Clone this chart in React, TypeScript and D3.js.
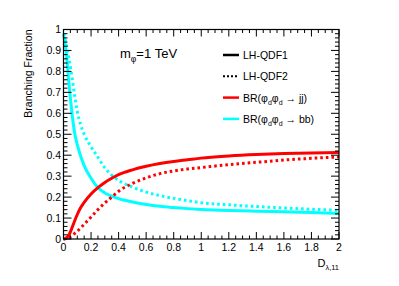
import * as d3 from 'd3';

const W = 399, H = 286;
const M = { left: 63.5, right: 60, top: 29.5, bottom: 47 };
const FONT = '"Liberation Sans", Arial, sans-serif';

// D_{lambda,11} sample points, shared by all curves
const XS = [0, 0.02, 0.04, 0.06, 0.08, 0.1, 0.125, 0.15, 0.2, 0.25, 0.3, 0.35, 0.4, 0.5, 0.6, 0.7, 0.8, 0.9, 1.0, 1.2, 1.4, 1.6, 1.8, 2.0];
const BB_QDF1 = [0.98, 0.89, 0.74, 0.61, 0.51, 0.45, 0.395, 0.35, 0.29, 0.245, 0.22, 0.205, 0.193, 0.177, 0.165, 0.156, 0.15, 0.145, 0.141, 0.136, 0.133, 0.13, 0.126, 0.122];
const JJ_QDF1 = [0, 0.005, 0.02, 0.05, 0.085, 0.117, 0.15, 0.175, 0.215, 0.245, 0.27, 0.29, 0.307, 0.33, 0.347, 0.36, 0.37, 0.378, 0.386, 0.396, 0.403, 0.408, 0.411, 0.413];
const BB_QDF2 = [0.98, 0.93, 0.86, 0.78, 0.69, 0.61, 0.545, 0.5, 0.44, 0.39, 0.34, 0.305, 0.28, 0.248, 0.224, 0.207, 0.194, 0.183, 0.173, 0.163, 0.155, 0.148, 0.142, 0.137];
const JJ_QDF2 = [0, 0.002, 0.008, 0.016, 0.026, 0.037, 0.053, 0.07, 0.105, 0.14, 0.172, 0.2, 0.228, 0.265, 0.292, 0.312, 0.325, 0.334, 0.341, 0.355, 0.366, 0.377, 0.385, 0.392];

const X_TICKS = [0, 0.2, 0.4, 0.6, 0.8, 1, 1.2, 1.4, 1.6, 1.8, 2];
const Y_TICKS = [0, 0.1, 0.2, 0.3, 0.4, 0.5, 0.6, 0.7, 0.8, 0.9, 1];

const CURVES = [
  { vals: BB_QDF1, color: '#00ffff', dash: null },
  { vals: BB_QDF2, color: '#00ffff', dash: '2.6 3' },
  { vals: JJ_QDF1, color: '#ff0000', dash: null },
  { vals: JJ_QDF2, color: '#ff0000', dash: '2.6 3' },
];

export default function App() {
  const x = d3.scaleLinear().domain([0, 2]).range([M.left, W - M.right]);
  const y = d3.scaleLinear().domain([0, 1]).range([H - M.bottom, M.top]);
  const line = d3.line<number>().x((_, i) => x(XS[i])).y(v => y(v)).curve(d3.curveMonotoneX);

  const x0 = x(0), x1 = x(2), y0 = y(0), y1 = y(1);
  const xMinor = d3.range(0, 2.0001, 0.05);
  const yMinor = d3.range(0, 1.0001, 0.02);
  const isMajor = (v: number, step: number) => Math.abs(v / step - Math.round(v / step)) < 1e-6;

  const legend = [
    { label: 'LH-QDF1', color: '#000', dash: null as string | null, kind: 'plain' },
    { label: 'LH-QDF2', color: '#000', dash: '2 2', kind: 'plain' },
    { label: 'jj', color: '#ff0000', dash: null, kind: 'br' },
    { label: 'bb', color: '#00ffff', dash: null, kind: 'br' },
  ];

  return (
    <svg width={W} height={H} style={{ position: 'absolute', left: 0, top: 0, background: '#fff' }}
      fontFamily={FONT}>
      <rect width={W} height={H} fill="#fff" />
      {/* curves */}
      <g>
        {CURVES.map((c, k) => (
          <path key={k} d={line(c.vals) ?? ''} fill="none" stroke={c.color} strokeWidth={3}
            strokeDasharray={c.dash ?? undefined} />
        ))}
      </g>
      {/* frame */}
      <rect x={x0} y={y1} width={x1 - x0} height={y0 - y1} fill="none" stroke="#000" strokeWidth={1.2} />
      {/* x ticks bottom & top */}
      {xMinor.map((v, i) => {
        const len = isMajor(v, 0.2) ? 7 : 3.5;
        return (
          <g key={'xt' + i} stroke="#000" strokeWidth={1}>
            <line x1={x(v)} x2={x(v)} y1={y0} y2={y0 - len} />
            <line x1={x(v)} x2={x(v)} y1={y1} y2={y1 + len} />
          </g>
        );
      })}
      {/* y ticks left & right */}
      {yMinor.map((v, i) => {
        const len = isMajor(v, 0.1) ? 8 : 4;
        return (
          <g key={'yt' + i} stroke="#000" strokeWidth={1}>
            <line x1={x0} x2={x0 + len} y1={y(v)} y2={y(v)} />
            <line x1={x1} x2={x1 - len} y1={y(v)} y2={y(v)} />
          </g>
        );
      })}
      {X_TICKS.map(v => (
        <text key={'xl' + v} x={x(v)} y={y0 + 12} fontSize={10.5} textAnchor="middle" fill="#000">{d3.format('~g')(v)}</text>
      ))}
      {Y_TICKS.map(v => (
        <text key={'yl' + v} x={x0 - 2.5} y={y(v) + 3.8} fontSize={10.5} textAnchor="end" fill="#000">{d3.format('~g')(v)}</text>
      ))}
      {/* axis titles */}
      <text transform={`translate(32,${y1}) rotate(-90)`} fontSize={10.5} textAnchor="end" fill="#000">Branching Fraction</text>
      <text x={x1} y={267} fontSize={11} textAnchor="end" fill="#000">
        D<tspan fontSize={7.5} dy={3}>λ,11</tspan>
      </text>
      {/* annotation */}
      <text x={120} y={58} fontSize={13} fill="#000">
        m<tspan fontSize={8.5} dy={3.5}>φ</tspan><tspan dy={-3.5}>=1 TeV</tspan>
      </text>
      {/* legend */}
      {legend.map((e, i) => {
        const ly = 55 + i * 21.3;
        return (
          <g key={'lg' + i}>
            <line x1={223} x2={239} y1={ly} y2={ly} stroke={e.color} strokeWidth={e.dash ? 2 : 2.5}
              strokeDasharray={e.dash ?? undefined} />
            {e.kind === 'plain' ? (
              <text x={243} y={ly + 4} fontSize={10.5} fill="#000">{e.label}</text>
            ) : (
              <text x={243} y={ly + 4} fontSize={10.5} fill="#000">
                BR(φ<tspan fontSize={7} dy={3}>d</tspan><tspan dy={-3}>φ</tspan><tspan fontSize={7} dy={3}>d</tspan><tspan dy={-3}> → {e.label})</tspan>
              </text>
            )}
          </g>
        );
      })}
    </svg>
  );
}
